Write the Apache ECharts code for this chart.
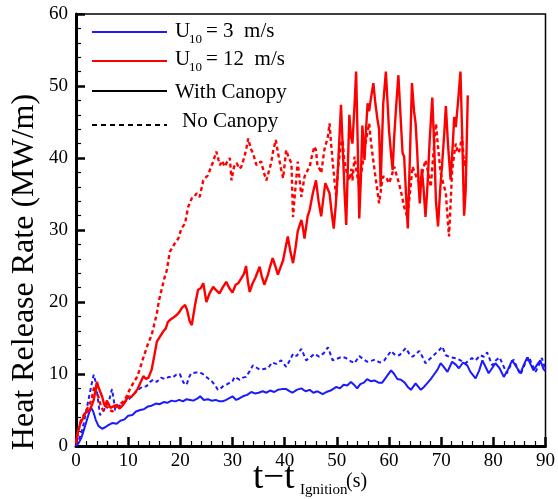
<!DOCTYPE html>
<html>
<head>
<meta charset="utf-8">
<script src="https://cdn.jsdelivr.net/npm/echarts@6/dist/echarts.min.js"></script>
<style>
html,body{margin:0;padding:0;background:#fff;}
#chart{width:558px;height:499px;}
</style>
</head>
<body>
<div id="chart"></div>
<script>
// ---- Data ----
var xTicks = [0, 10, 20, 30, 40, 50, 60, 70, 80, 90];
var yTicks = [0, 10, 20, 30, 40, 50, 60];

// U10 = 3 m/s, with canopy (blue solid)
var blueSolidT = [0,0.5,1,1.5,2,2.5,2.9,3.3,3.8,4.3,5,5.6,6.2,7,7.8,8.5,9.3,10,10.8,11.5,12.3,13,13.8,14.5,15.3,16,16.8,17.5,18.3,19,19.8,20.5,21.2,21.9,22.5,23.3,23.8,24.5,25.3,26,26.8,27.5,28.1,28.8,29.5,30,30.7,31.3,32,32.8,33.6,34.3,35,35.8,36.5,37.2,38,38.7,39.5,40.3,41,41.5,42.3,43.2,44,44.8,45.5,46.3,47.3,48,48.8,49.9,50.6,51.3,52,52.7,53.3,53.9,54.5,55.2,55.8,56.5,57.2,58,58.7,59.5,60.4,61,61.6,62.3,63,63.6,64.2,65.1,66.1,66.7,67.3,68,68.6,69.3,69.9,70.5,71.2,72.1,72.8,73.4,74.2,75,75.6,76.6,77.3,77.9,78.5,79.1,80.4,81.2,82,82.8,83.6,84.4,85.2,85.8,86.5,87.1,87.7,88.4,89,89.6,90];
var blueSolidV = [0,0.4,1.1,2.2,3.4,4.6,5.3,4.8,3.6,2.8,2.4,2.6,2.9,3.2,3.1,3.5,3.7,4.2,4.3,4.8,5.0,5.1,5.5,5.6,5.9,5.8,6.1,6.0,6.3,6.2,6.4,6.2,6.5,6.4,6.3,6.6,6.9,6.4,6.5,6.3,6.4,6.2,6.2,6.4,6.7,6.9,6.4,6.6,6.9,7.1,7.5,7.3,7.4,7.6,7.4,7.7,7.5,7.8,7.9,7.9,7.6,7.4,7.8,8.0,7.6,7.8,7.4,7.6,7.2,7.5,7.7,8.2,8.0,8.5,8.4,8.9,8.5,8.0,8.6,8.8,9.3,9.0,9.1,8.8,8.8,9.6,10.5,10.0,9.3,9.2,8.8,8.2,7.8,8.7,7.8,8.2,8.7,9.3,9.9,10.6,11.5,11.0,10.3,11.7,11.3,10.8,11.6,11.2,10.3,9.4,10.5,11.9,11.0,10.1,11.5,10.8,9.6,10.6,11.9,11.0,10.1,11.2,12.3,11.4,10.5,11.3,11.9,10.7,10.4];

// U10 = 3 m/s, no canopy (blue dashed)
var blueDashT = [0,0.5,1,1.5,2,2.5,3,3.4,3.8,4.2,4.6,5.2,5.8,6.3,6.9,7.2,7.5,8.2,9,10,10.8,11.6,12.6,13.5,14.2,14.8,15.5,16.3,17,17.8,18.5,19.2,19.9,20.6,21.2,21.7,22.1,23,23.8,24.5,25.3,26,26.6,27.2,27.6,28.3,29,30,30.4,31.4,32,32.6,33.3,33.9,34.6,35.2,36,36.8,37.6,38.4,39.3,40.3,41,41.6,42.3,43.2,44.1,44.9,45.7,46.6,47.5,48.3,49.2,50,51,51.8,52.6,53.4,54.3,55,55.8,56.5,57.3,58.2,59.1,59.8,60.4,61.2,62,62.6,63.2,63.9,64.5,65.2,65.8,66.4,67,67.7,68.3,69,69.6,70.2,70.9,71.8,72.8,73.7,74.7,75.3,75.9,76.6,77.5,78.2,78.8,79.8,80.5,81.2,82,82.6,83.3,83.9,84.6,85.2,86,86.8,87.5,88.1,88.7,89.3,90];
var blueDashV = [0,0.8,1.8,3.2,5.0,6.8,8.6,9.9,8.8,6.5,4.3,4.8,5.6,6.2,7.9,6.6,5.0,5.5,6.0,6.4,7.0,7.6,8.2,8.3,8.9,9.2,8.9,9.5,9.3,9.6,9.5,9.9,10.0,8.8,8.5,9.6,10.1,10.2,10.2,9.9,9.4,9.0,8.5,7.8,7.9,8.4,8.6,9.0,9.6,9.2,9.5,9.6,10.4,11.2,10.9,10.6,10.7,10.8,11.6,11.4,11.9,11.0,11.9,12.8,12.5,13.5,11.9,12.3,12.8,12.4,12.9,13.7,11.9,12.1,12.4,12.2,11.8,11.5,12.5,12.1,11.7,11.8,12.0,11.6,11.9,12.6,13.2,12.6,12.6,13.1,13.6,12.8,12.4,12.8,13.2,12.4,11.5,12.0,12.4,12.9,13.3,13.8,12.6,12.3,12.2,11.9,11.5,11.9,12.2,11.9,12.6,12.4,13.0,11.2,11.9,12.3,11.0,10.1,11.2,12.0,10.8,9.9,11.3,12.4,11.2,10.3,11.2,12.2,10.6];

// U10 = 12 m/s, with canopy (red solid)
var redSolidT = [0,0.3,0.8,1.3,1.8,2.3,2.7,3.1,3.4,3.7,4.0,4.3,4.6,5.0,5.3,5.6,5.9,6.2,6.6,6.9,7.4,7.9,8.3,8.8,9.3,10,10.6,11.3,11.8,12.3,12.9,13.4,13.9,14.5,15,15.5,16.1,16.7,17.2,17.6,18,18.6,19.3,19.8,20.3,20.9,21.3,21.8,22.2,22.8,23.4,23.9,24.4,25,25.6,26.3,26.9,27.5,28.1,28.8,29.4,30,30.6,31.1,31.7,32.2,32.6,33.0,33.3,33.8,34.4,35.2,35.6,36.1,36.8,37.2,37.7,38.2,38.7,39.2,39.7,40.1,40.6,41.1,41.6,42.1,42.5,43.2,43.5,43.8,44.4,44.8,45.4,46.0,46.5,47.0,47.4,47.8,48.2,48.6,49.0,49.4,49.8,50.2,50.8,51.1,51.5,51.8,52.1,52.4,52.7,53.0,53.4,53.7,54.0,54.3,54.6,54.9,55.3,55.6,55.9,56.2,56.5,57.0,57.4,57.8,58.1,58.4,58.6,58.9,59.4,59.7,60.0,60.4,60.7,61.0,61.4,61.8,62.2,62.6,62.9,63.3,63.6,64.0,64.4,64.8,65.1,65.4,65.7,65.9,66.3,66.6,67.0,67.4,67.8,68.3,68.7,69.0,69.4,69.8,70.2,70.6,70.9,71.3,71.8,72.2,72.5,72.8,73.2,73.7,74.0,74.4,74.7,75.1];
var redSolidV = [0.5,1.8,3.1,3.8,4.6,4.8,5.1,5.8,6.4,7.6,8.9,8.2,7.6,6.9,6.0,5.5,6.3,5.9,5.3,5.1,5.6,5.7,5.2,5.5,6.0,6.9,6.8,7.4,7.9,8.7,9.7,9.3,9.5,10.6,12.5,14.5,15.2,15.9,16.3,17.2,17.5,17.8,18.2,18.6,19.2,19.6,18.9,17.3,16.8,19.5,21.7,21.9,22.6,20.0,21.2,22.1,21.6,21.2,22.0,22.8,21.9,21.3,22.4,22.6,23.3,23.9,25.0,22.6,21.4,22.5,23.4,24.9,23.6,22.4,23.8,24.9,26.1,25.0,23.8,24.8,25.8,27.3,29.1,27.0,25.4,27.6,29.8,31.4,30.3,28.8,31.9,32.8,35.1,36.9,34.0,31.9,34.3,36.5,35.8,35.1,32.5,30.2,33.5,38.3,47.4,42.0,35.0,30.7,38.5,46.0,43.0,42.0,47.5,52.0,42.0,31.6,37.0,44.5,39.7,44.0,47.6,46.5,48.1,50.4,47.5,45.3,44.0,36.0,41.0,47.6,52.0,48.0,43.9,40.5,38.3,43.0,47.5,51.5,46.0,40.7,40.2,34.5,30.2,40.0,50.4,46.5,44.8,41.0,36.0,33.7,38.5,36.0,31.8,36.5,42.5,48.4,41.0,34.0,30.5,35.5,39.3,43.5,47.2,42.0,37.0,41.5,45.7,44.3,47.5,52.0,44.0,32.0,35.5,48.7];

// U10 = 12 m/s, no canopy (red dashed)
var redDashT = [0,0.4,0.9,1.4,2.0,2.5,3.0,3.5,3.9,4.3,4.8,5.3,5.9,6.4,7.0,7.6,8.2,8.8,9.3,9.7,10.2,10.7,11.2,11.7,12.2,12.7,13.2,13.8,14.5,15.0,15.5,15.9,16.4,16.9,17.4,18.0,18.5,19.0,19.6,20.2,20.9,21.5,22.2,22.7,23.1,23.7,24.4,24.9,25.3,25.8,26.3,26.9,27.3,27.6,28.0,28.5,29.0,29.5,29.8,30.3,30.8,31.3,31.7,32.3,32.7,33.0,33.5,33.9,34.2,34.6,35.0,35.5,36.0,36.5,36.8,37.4,37.8,38.3,38.7,38.9,39.3,39.7,40.3,40.8,41.3,41.6,41.9,42.2,42.5,42.8,43.2,43.5,43.8,44.4,44.8,45.2,45.7,46.0,46.3,46.7,47.0,47.6,47.9,48.3,48.6,48.9,49.2,49.6,49.9,50.2,50.8,51.1,51.4,51.9,52.4,52.8,53.0,53.4,53.8,54.3,54.9,55.6,56.2,56.5,56.8,57.2,57.5,58.1,58.8,59.4,60.0,60.5,61.0,61.5,61.9,62.4,62.9,63.5,64.0,64.5,65.2,65.8,66.4,67.0,67.5,68.0,68.5,69.0,69.4,69.9,70.4,70.9,71.2,71.5,71.8,72.1,72.5,72.8,73.1,73.4,73.7,74.0,74.4,74.7];
var redDashV = [0.3,1.8,3.5,4.2,5.0,5.6,6.5,8.3,7.5,6.8,5.4,4.9,5.5,5.0,4.8,5.4,5.7,6.0,6.4,6.9,7.7,8.4,9.0,9.6,10.6,11.8,12.9,14.2,15.4,16.9,18.4,20.2,21.7,23.2,24.4,27.0,27.6,28.2,28.8,30.2,30.9,33.2,34.4,34.6,35.1,34.6,36.9,37.3,37.6,38.6,39.5,40.9,39.8,39.0,39.6,38.8,39.5,40.0,36.9,38.8,39.3,38.5,38.8,40.2,41.5,42.7,41.3,40.7,40.0,39.0,39.3,39.5,38.0,36.9,36.7,39.3,41.0,42.5,40.8,40.0,38.5,37.2,41.1,40.0,39.3,31.8,34.5,36.9,39.5,39.3,34.6,36.0,37.4,38.3,38.8,40.2,41.6,41.1,38.8,38.5,37.9,41.1,41.1,43.0,44.8,42.0,39.5,36.5,34.6,38.3,42.0,42.5,39.7,38.0,36.9,38.5,36.9,40.2,38.0,36.0,39.0,42.5,44.8,42.5,40.7,38.5,36.9,33.7,37.4,37.4,36.5,37.5,38.8,37.5,36.5,35.0,33.2,31.8,35.0,38.8,37.5,36.5,38.0,39.7,38.0,36.0,40.5,44.8,41.5,37.9,36.5,35.1,32.0,29.1,33.5,38.3,40.5,42.0,41.0,40.7,41.8,43.0,38.8,40.2];

function zip(t, v) { return t.map(function (x, i) { return [x, v[i]]; }); }

var FONT = '"Liberation Serif", "Times New Roman", serif';
var BLUE = '#1a1aff';
var RED = '#ff0000';

var chart = echarts.init(document.getElementById('chart'), null, { renderer: 'canvas' });

function axisCommon(ticks) {
  return {
    type: 'value',
    min: ticks[0],
    max: ticks[ticks.length - 1],
    interval: ticks[1] - ticks[0],
    splitLine: { show: false },
    axisLine: { show: true, onZero: false, lineStyle: { color: '#000', width: 3 } },
    axisTick: { show: true, inside: true, length: 9, lineStyle: { color: '#000', width: 2.5 } },
    minorTick: { show: true, splitNumber: 5, length: 5, lineStyle: { color: '#000', width: 1.2 } },
    axisLabel: { color: '#000', fontSize: 19, fontFamily: FONT }
  };
}

var xAxis = axisCommon(xTicks);
xAxis.axisLabel.margin = 6;
var yAxis = axisCommon(yTicks);
yAxis.axisLabel.margin = 8;

function legendText(x, y, text, size) {
  return { type: 'text', x: x, y: y, style: { text: text, fontSize: size, fontFamily: FONT, fill: '#000', align: 'left', verticalAlign: 'middle' } };
}
function legendLine(y, color, dashed) {
  return { type: 'line', shape: { x1: 92, y1: y, x2: 167, y2: y }, style: { stroke: color, lineWidth: 2, lineDash: dashed ? [5, 4] : null } };
}

var option = {
  animation: false,
  backgroundColor: '#fff',
  grid: { left: 76, right: 11, top: 14, bottom: 53, show: true, borderColor: '#000', borderWidth: 1.5, backgroundColor: 'transparent' },
  xAxis: xAxis,
  yAxis: yAxis,
  series: [
    { type: 'line', data: zip(blueSolidT, blueSolidV), showSymbol: false, lineStyle: { color: BLUE, width: 2 }, z: 3 },
    { type: 'line', data: zip(blueDashT, blueDashV), showSymbol: false, lineStyle: { color: BLUE, width: 2, type: [4, 3] }, z: 3 },
    { type: 'line', data: zip(redSolidT, redSolidV), showSymbol: false, lineStyle: { color: RED, width: 2.4 }, z: 4 },
    { type: 'line', data: zip(redDashT, redDashV), showSymbol: false, lineStyle: { color: RED, width: 2.4, type: [4, 3] }, z: 4 }
  ],
  graphic: [
    legendLine(32, BLUE, false),
    legendLine(61, RED, false),
    legendLine(91, '#000', false),
    legendLine(125, '#000', true),
    legendText(175, 31, 'U', 21),
    legendText(189, 40, '10', 13),
    legendText(206, 31, '= 3  m/s', 21),
    legendText(175, 59, 'U', 21),
    legendText(189, 68, '10', 13),
    legendText(206, 59, '= 12  m/s', 21),
    legendText(175, 92, 'With Canopy', 21),
    legendText(182, 121, 'No Canopy', 21),
    { type: 'text', x: 25, y: 272, rotation: Math.PI / 2,
      style: { text: 'Heat Release Rate (MW/m)', fontSize: 32, fontFamily: FONT, fill: '#000', align: 'center', verticalAlign: 'middle' } },
    { type: 'text', x: 253, y: 478, style: { text: 't\u2212t', fontSize: 37, fontFamily: FONT, fill: '#000', align: 'left', verticalAlign: 'middle' } },
    { type: 'text', x: 300, y: 490, style: { text: 'Ignition', fontSize: 15, fontFamily: FONT, fill: '#000', align: 'left', verticalAlign: 'middle' } },
    { type: 'text', x: 346, y: 482, style: { text: '(s)', fontSize: 20, fontFamily: FONT, fill: '#000', align: 'left', verticalAlign: 'middle' } }
  ]
};
chart.setOption(option);
</script>
</body>
</html>
